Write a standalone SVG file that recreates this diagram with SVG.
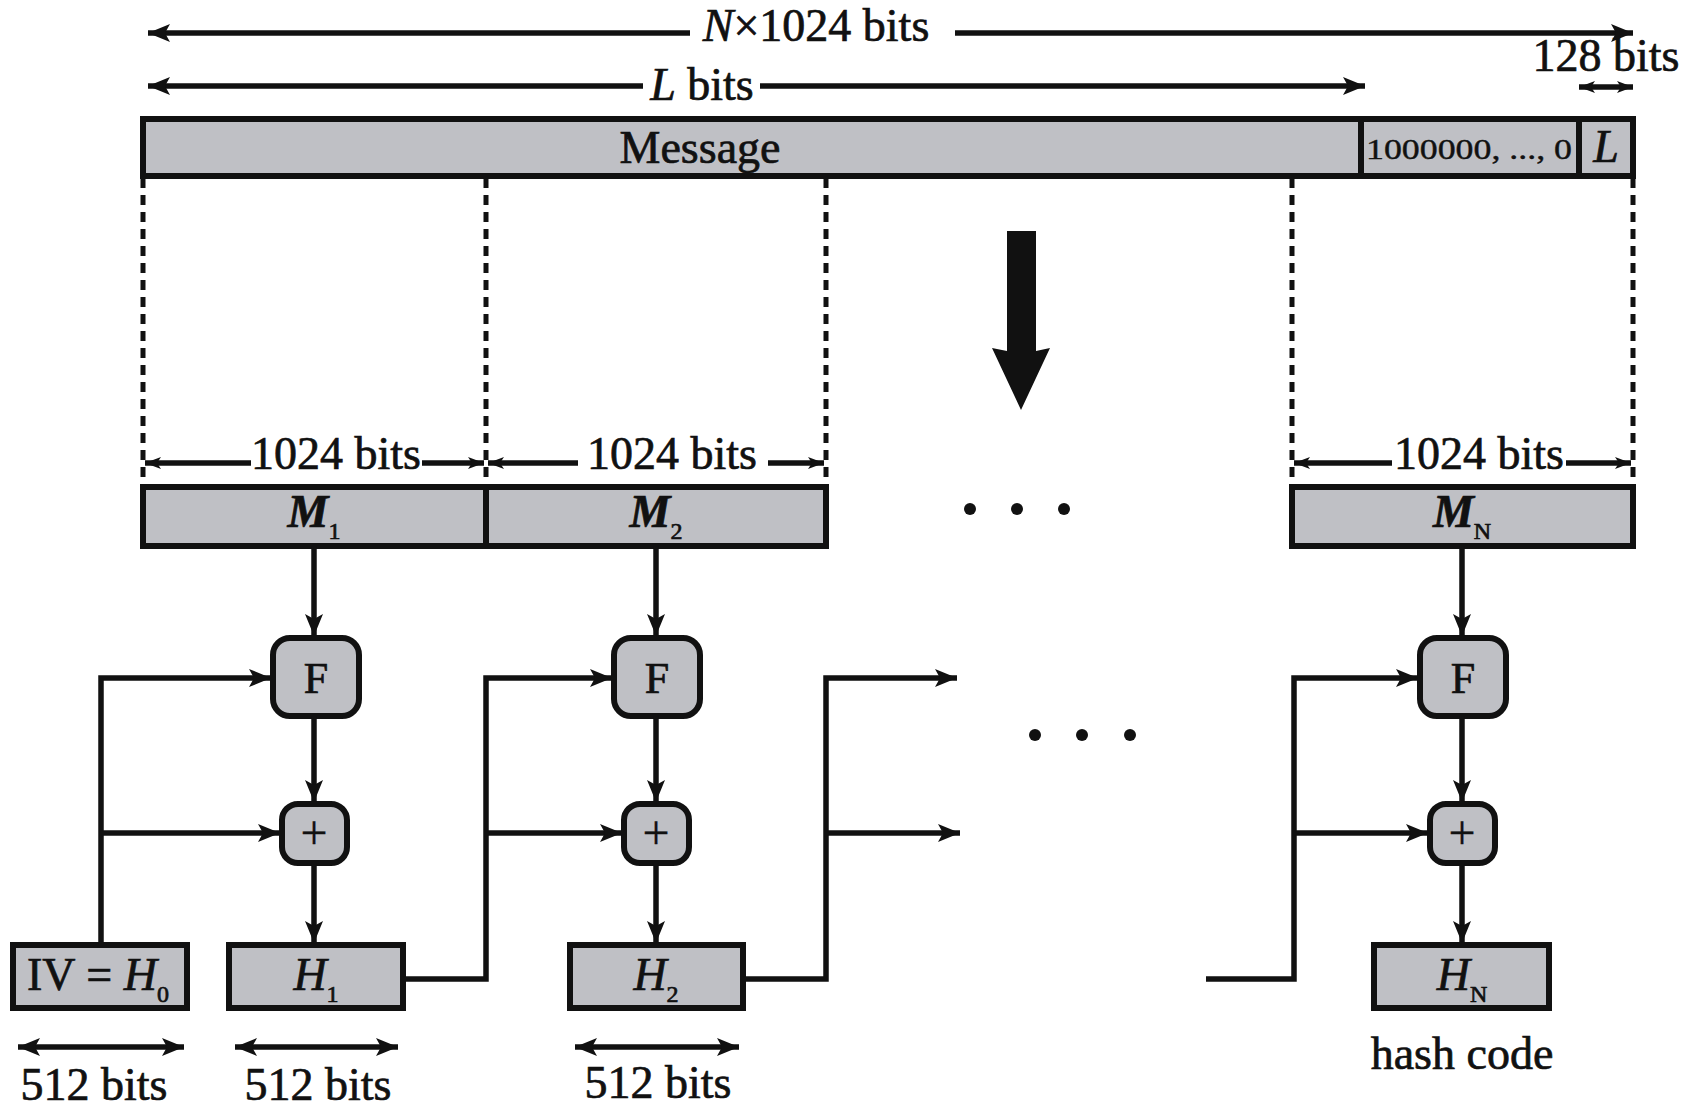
<svg xmlns="http://www.w3.org/2000/svg" width="1696" height="1107" viewBox="0 0 1696 1107">
<defs>
<style>
.t{font-family:"Liberation Serif","Times New Roman",serif;font-size:46px;fill:#111;stroke:#111;stroke-width:0.7}
.c{text-anchor:middle}
.box{fill:#bfc0c5;stroke:#111;stroke-width:6}
.ln{fill:none;stroke:#111;stroke-width:5.5}
.dash{fill:none;stroke:#111;stroke-width:5;stroke-dasharray:10 7}
.sub{font-size:24px;font-style:normal;font-weight:normal}
</style>
<marker id="ah" markerUnits="userSpaceOnUse" markerWidth="24" markerHeight="20" refX="22" refY="9" orient="auto-start-reverse">
<path d="M0,0 L22,9 L0,18 L5,9 z" fill="#111"/>
</marker>
<marker id="as" markerUnits="userSpaceOnUse" markerWidth="18" markerHeight="14" refX="16" refY="6" orient="auto-start-reverse">
<path d="M0,0 L16,6 L0,12 L4,6 z" fill="#111"/>
</marker>
</defs>

<g id="dimensions">
<line class="ln" x1="148" y1="33" x2="690" y2="33" marker-start="url(#ah)"/>
<line class="ln" x1="955" y1="33" x2="1633" y2="33" marker-end="url(#ah)"/>
<text class="t c" x="816" y="41"><tspan font-style="italic">N</tspan>×1024 bits</text>
<line class="ln" x1="148" y1="86" x2="643" y2="86" marker-start="url(#ah)"/>
<line class="ln" x1="760" y1="86" x2="1365" y2="86" marker-end="url(#ah)"/>
<text class="t c" x="702" y="100"><tspan font-style="italic">L</tspan> bits</text>
<text class="t c" x="1606" y="71">128 bits</text>
<line class="ln" x1="1579" y1="87" x2="1633" y2="87" marker-start="url(#as)" marker-end="url(#as)"/>
</g>

<g id="message">
<rect class="box" x="143" y="119" width="1490" height="57"/>
<line class="ln" x1="1361" y1="119" x2="1361" y2="176" style="stroke-width:6"/>
<line class="ln" x1="1579" y1="119" x2="1579" y2="176" style="stroke-width:6"/>
<text class="t c" x="700" y="163">Message</text>
<text class="t" x="1366" y="159" style="font-size:30px;stroke-width:0.4" textLength="206" lengthAdjust="spacingAndGlyphs">1000000, ..., 0</text>
<text class="t c" x="1606" y="162" font-style="italic">L</text>
</g>

<g id="split">
<line class="dash" x1="143" y1="178" x2="143" y2="487"/>
<line class="dash" x1="486" y1="178" x2="486" y2="487"/>
<line class="dash" x1="826" y1="178" x2="826" y2="487"/>
<line class="dash" x1="1292" y1="178" x2="1292" y2="487"/>
<line class="dash" x1="1633" y1="178" x2="1633" y2="487"/>
<polygon points="1007,231 1036,231 1036,351 1050,348 1021,410 992,348 1007,351" fill="#111"/>
<circle cx="970" cy="509" r="6" fill="#111"/>
<circle cx="1017" cy="509" r="6" fill="#111"/>
<circle cx="1064" cy="509" r="6" fill="#111"/>
</g>

<g id="block-dims">
<line class="ln" x1="145" y1="463" x2="251" y2="463" marker-start="url(#as)"/>
<line class="ln" x1="422" y1="463" x2="484" y2="463" marker-end="url(#as)"/>
<text class="t c" x="336" y="469">1024 bits</text>
<line class="ln" x1="488" y1="463" x2="578" y2="463" marker-start="url(#as)"/>
<line class="ln" x1="768" y1="463" x2="824" y2="463" marker-end="url(#as)"/>
<text class="t c" x="672" y="469">1024 bits</text>
<line class="ln" x1="1294" y1="463" x2="1392" y2="463" marker-start="url(#as)"/>
<line class="ln" x1="1566" y1="463" x2="1631" y2="463" marker-end="url(#as)"/>
<text class="t c" x="1479" y="469">1024 bits</text>
</g>

<g id="M1">
<rect class="box" x="143" y="487" width="343" height="59"/>
<text class="t c" x="314" y="527" font-style="italic" font-weight="bold">M<tspan class="sub" dy="12">1</tspan></text>
</g>
<g id="M2">
<rect class="box" x="486" y="487" width="340" height="59"/>
<text class="t c" x="656" y="527" font-style="italic" font-weight="bold">M<tspan class="sub" dy="12">2</tspan></text>
</g>
<g id="MN">
<rect class="box" x="1292" y="487" width="341" height="59"/>
<text class="t c" x="1462" y="527" font-style="italic" font-weight="bold">M<tspan class="sub" dy="12" font-style="italic">N</tspan></text>
</g>

<g id="F1">
<rect class="box" x="273" y="638" width="86" height="78" rx="17"/>
<text class="t c" x="316" y="693" style="font-size:44px">F</text>
</g>
<g id="F2">
<rect class="box" x="614" y="638" width="86" height="78" rx="17"/>
<text class="t c" x="657" y="693" style="font-size:44px">F</text>
</g>
<g id="FN">
<rect class="box" x="1420" y="638" width="86" height="78" rx="17"/>
<text class="t c" x="1463" y="693" style="font-size:44px">F</text>
</g>

<g id="P1">
<rect class="box" x="282" y="804" width="65" height="59" rx="16"/>
<text class="t c" x="314" y="849" style="font-size:48px;stroke-width:0.3">+</text>
</g>
<g id="P2">
<rect class="box" x="624" y="804" width="65" height="59" rx="16"/>
<text class="t c" x="656" y="849" style="font-size:48px;stroke-width:0.3">+</text>
</g>
<g id="PN">
<rect class="box" x="1430" y="804" width="65" height="59" rx="16"/>
<text class="t c" x="1462" y="849" style="font-size:48px;stroke-width:0.3">+</text>
</g>

<g id="H0">
<rect class="box" x="13" y="945" width="174" height="63"/>
<text class="t c" x="98" y="990">IV = <tspan font-style="italic">H</tspan><tspan class="sub" dy="12">0</tspan></text>
</g>
<g id="H1">
<rect class="box" x="229" y="945" width="174" height="63"/>
<text class="t c" x="316" y="990" font-style="italic">H<tspan class="sub" dy="12">1</tspan></text>
</g>
<g id="H2">
<rect class="box" x="570" y="945" width="173" height="63"/>
<text class="t c" x="656" y="990" font-style="italic">H<tspan class="sub" dy="12">2</tspan></text>
</g>
<g id="HN">
<rect class="box" x="1374" y="945" width="175" height="63"/>
<text class="t c" x="1462" y="990" font-style="italic">H<tspan class="sub" dy="12" font-style="italic">N</tspan></text>
</g>

<g id="connectors">
<line class="ln" x1="314" y1="546" x2="314" y2="636" marker-end="url(#ah)"/>
<line class="ln" x1="656" y1="546" x2="656" y2="636" marker-end="url(#ah)"/>
<line class="ln" x1="1462" y1="546" x2="1462" y2="636" marker-end="url(#ah)"/>
<line class="ln" x1="314" y1="716" x2="314" y2="802" marker-end="url(#ah)"/>
<line class="ln" x1="656" y1="716" x2="656" y2="802" marker-end="url(#ah)"/>
<line class="ln" x1="1462" y1="716" x2="1462" y2="802" marker-end="url(#ah)"/>
<line class="ln" x1="314" y1="863" x2="314" y2="943" marker-end="url(#ah)"/>
<line class="ln" x1="656" y1="863" x2="656" y2="943" marker-end="url(#ah)"/>
<line class="ln" x1="1462" y1="863" x2="1462" y2="943" marker-end="url(#ah)"/>
<polyline class="ln" points="101,945 101,678 271,678" marker-end="url(#ah)"/>
<line class="ln" x1="101" y1="833" x2="280" y2="833" marker-end="url(#ah)"/>
<polyline class="ln" points="403,979 486,979 486,678 612,678" marker-end="url(#ah)"/>
<line class="ln" x1="486" y1="833" x2="622" y2="833" marker-end="url(#ah)"/>
<polyline class="ln" points="743,979 826,979 826,678 957,678" marker-end="url(#ah)"/>
<line class="ln" x1="826" y1="833" x2="960" y2="833" marker-end="url(#ah)"/>
<polyline class="ln" points="1206,979 1294,979 1294,678 1418,678" marker-end="url(#ah)"/>
<line class="ln" x1="1294" y1="833" x2="1428" y2="833" marker-end="url(#ah)"/>
<circle cx="1035" cy="735" r="6" fill="#111"/>
<circle cx="1082" cy="735" r="6" fill="#111"/>
<circle cx="1130" cy="735" r="6" fill="#111"/>
</g>

<g id="bottom-dims">
<line class="ln" x1="18" y1="1047" x2="184" y2="1047" marker-start="url(#ah)" marker-end="url(#ah)"/>
<text class="t c" x="94" y="1100">512 bits</text>
<line class="ln" x1="235" y1="1047" x2="398" y2="1047" marker-start="url(#ah)" marker-end="url(#ah)"/>
<text class="t c" x="318" y="1100">512 bits</text>
<line class="ln" x1="575" y1="1047" x2="739" y2="1047" marker-start="url(#ah)" marker-end="url(#ah)"/>
<text class="t c" x="658" y="1098">512 bits</text>
<text class="t c" x="1462" y="1069">hash code</text>
</g>
</svg>
